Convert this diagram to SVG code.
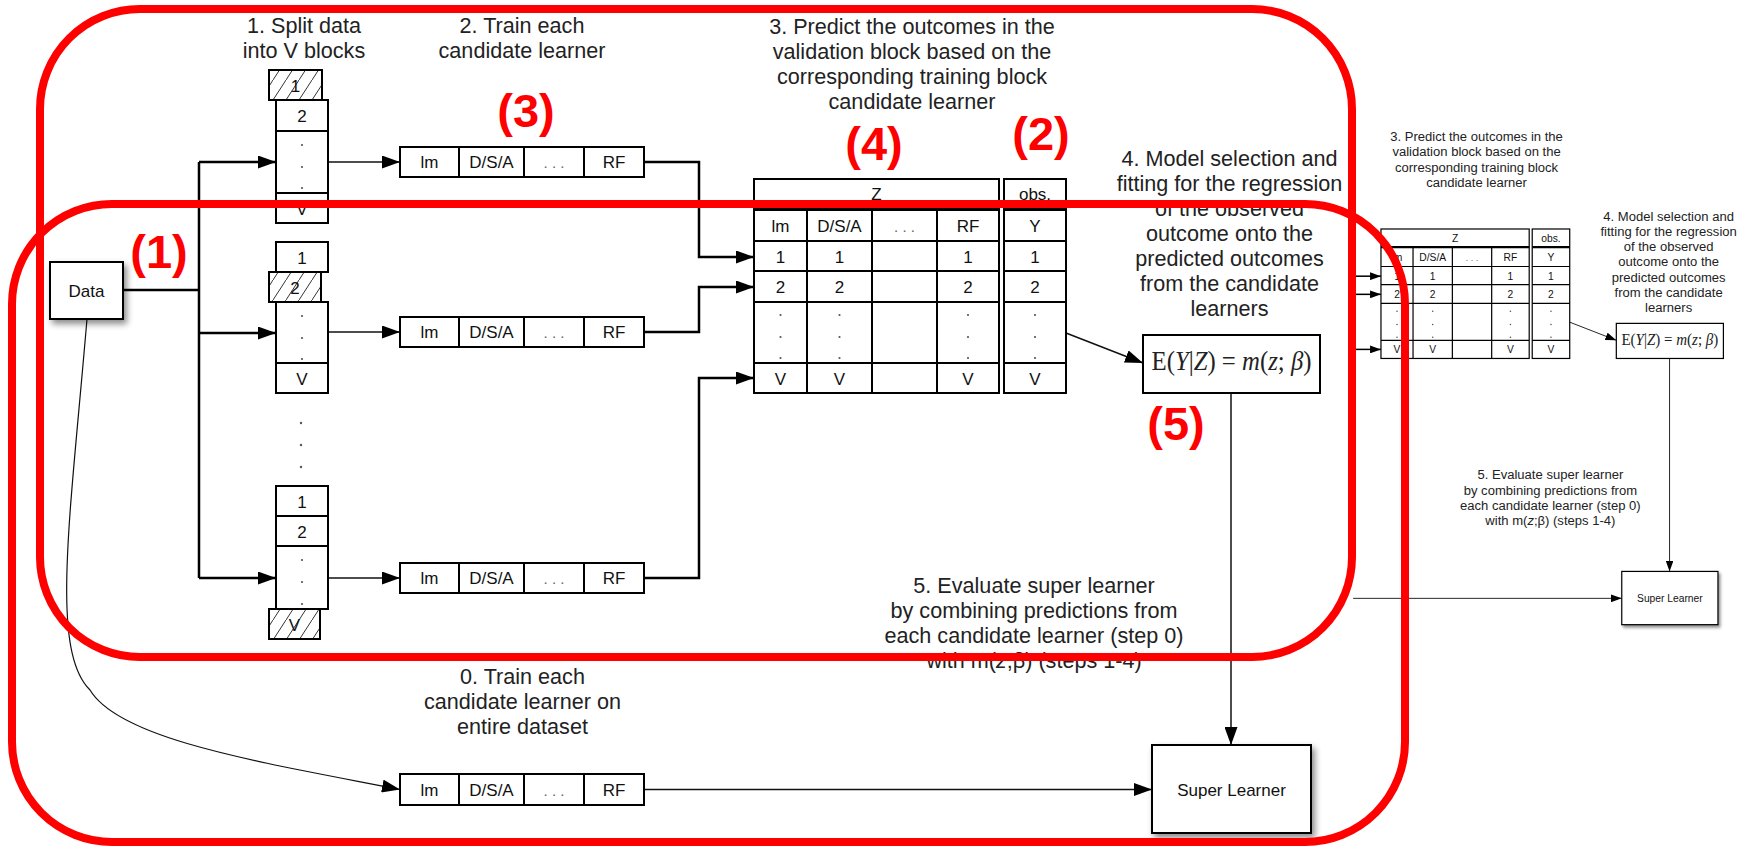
<svg xmlns="http://www.w3.org/2000/svg" width="1746" height="846" viewBox="0 0 1746 846">
<defs>
<style>
.lbl{font-family:"Liberation Sans",Arial,sans-serif;font-size:21.6px;fill:#222;text-anchor:middle}
.cell{font-family:"Liberation Sans",Arial,sans-serif;font-size:17px;fill:#111;text-anchor:middle}
.ell{font-family:"Liberation Sans",Arial,sans-serif;font-size:15px;fill:#666;text-anchor:middle}
.box{fill:#fff;stroke:#000;stroke-width:2}
.hbox{fill:url(#hatch);stroke:#000;stroke-width:2}
.grid{fill:none;stroke:#000;stroke-width:2}
.red{fill:none;stroke:#f00;stroke-width:8}
.num{font-family:"Liberation Sans",Arial,sans-serif;font-size:47px;font-weight:bold;fill:#f00;text-anchor:middle}
.conn{fill:none;stroke:#000;stroke-width:2.5}
.thin{fill:none;stroke:#111;stroke-width:1.5}
.dot{fill:#555}
.frm{font-family:"Liberation Serif","DejaVu Serif",serif;font-size:27px;fill:#222;text-anchor:middle}
</style>
<pattern id="hatch" patternUnits="userSpaceOnUse" width="13" height="20">
<rect width="13" height="20" fill="#fff"/>
<path d="M0 20L13 0" stroke="#333" stroke-width="1"/>
</pattern>
<marker id="arr" markerUnits="userSpaceOnUse" markerWidth="18" markerHeight="13" refX="18" refY="6.5" orient="auto">
<path d="M0 0L18 6.5L0 13z" fill="#000"/>
</marker>
<filter id="shadow" x="-20%" y="-20%" width="150%" height="150%">
<feDropShadow dx="3" dy="4" stdDeviation="3" flood-color="#000" flood-opacity="0.45"/>
</filter>
</defs>
<rect width="1746" height="846" fill="#fff"/>

<!-- step labels -->
<g id="step1-label"><text class="lbl" x="304" y="33">1. Split data</text><text class="lbl" x="304" y="58">into V blocks</text></g>
<g id="step2-label"><text class="lbl" x="522" y="33">2. Train each</text><text class="lbl" x="522" y="58">candidate learner</text></g>
<g id="step3-label">
<text class="lbl" x="912" y="34">3. Predict the outcomes in the</text>
<text class="lbl" x="912" y="59">validation block based on the</text>
<text class="lbl" x="912" y="84">corresponding training block</text>
<text class="lbl" x="912" y="109">candidate learner</text>
</g>
<g id="step4-label">
<text class="lbl" x="1229.5" y="166">4. Model selection and</text>
<text class="lbl" x="1229.5" y="191">fitting for the regression</text>
<text class="lbl" x="1229.5" y="216">of the observed</text>
<text class="lbl" x="1229.5" y="241">outcome onto the</text>
<text class="lbl" x="1229.5" y="266">predicted outcomes</text>
<text class="lbl" x="1229.5" y="291">from the candidate</text>
<text class="lbl" x="1229.5" y="316">learners</text>
</g>
<g id="step5-label">
<text class="lbl" x="1034" y="593">5. Evaluate super learner</text>
<text class="lbl" x="1034" y="618">by combining predictions from</text>
<text class="lbl" x="1034" y="643">each candidate learner (step 0)</text>
<text class="lbl" x="1034" y="668">with m(<tspan font-style="italic">z</tspan>;β) (steps 1-4)</text>
</g>
<g id="step0-label">
<text class="lbl" x="522.5" y="684">0. Train each</text>
<text class="lbl" x="522.5" y="709">candidate learner on</text>
<text class="lbl" x="522.5" y="734">entire dataset</text>
</g>

<!-- connectors -->
<g id="connectors">
<path class="conn" d="M123 290H199M199 162V578"/>
<path class="conn" d="M199 162H276" marker-end="url(#arr)"/>
<path class="conn" d="M199 333H276" marker-end="url(#arr)"/>
<path class="conn" d="M199 578H276" marker-end="url(#arr)"/>
<path class="thin" d="M328 162H400" marker-end="url(#arr)"/>
<path class="thin" d="M328 332H400" marker-end="url(#arr)"/>
<path class="thin" d="M328 578H400" marker-end="url(#arr)"/>
<path class="conn" d="M644 162H699V257H754" marker-end="url(#arr)"/>
<path class="conn" d="M644 332H699V287H754" marker-end="url(#arr)"/>
<path class="conn" d="M644 578H699V378H754" marker-end="url(#arr)"/>
<path class="thin" d="M1066 333L1143 363" marker-end="url(#arr)"/>
<path class="thin" d="M1231 393V745" marker-end="url(#arr)"/>
<path class="thin" d="M644 789.5H1152" marker-end="url(#arr)"/>
<path fill="none" stroke="#111" stroke-width="1.2" d="M87 319C70 520 50 650 90 690C120 740 260 762 400 789.5" marker-end="url(#arr)"/>
</g>

<!-- data -->
<g id="data">
<rect class="box" x="50" y="262" width="73" height="57" filter="url(#shadow)"/>
<text class="cell" x="86.5" y="297">Data</text>
</g>

<!-- fold 1 -->
<g id="fold1">
<rect class="hbox" x="269" y="70" width="53" height="30"/>
<text class="cell" x="295.5" y="91.5">1</text>
<rect class="box" x="276" y="100" width="52" height="31"/>
<text class="cell" x="302" y="122">2</text>
<rect class="box" x="276" y="131" width="52" height="62"/>
<circle class="dot" cx="302" cy="145" r="1.1"/><circle class="dot" cx="302" cy="167" r="1.1"/><circle class="dot" cx="302" cy="188" r="1.1"/>
<rect class="box" x="276" y="193" width="52" height="30"/>
<text class="cell" x="302" y="214.5">V</text>
</g>
<g id="fold2">
<rect class="box" x="276" y="242" width="52" height="30"/>
<text class="cell" x="302" y="263.5">1</text>
<rect class="hbox" x="269" y="272" width="52" height="30"/>
<text class="cell" x="295" y="293.5">2</text>
<rect class="box" x="276" y="302" width="52" height="61"/>
<circle class="dot" cx="302" cy="316" r="1.1"/><circle class="dot" cx="302" cy="338" r="1.1"/><circle class="dot" cx="302" cy="359" r="1.1"/>
<rect class="box" x="276" y="363" width="52" height="30"/>
<text class="cell" x="302" y="384.5">V</text>
</g>
<g id="fold-dots">
<circle class="dot" cx="301" cy="423" r="1.2"/><circle class="dot" cx="301" cy="445" r="1.2"/><circle class="dot" cx="301" cy="467" r="1.2"/>
</g>
<g id="fold3">
<rect class="box" x="276" y="486" width="52" height="30"/>
<text class="cell" x="302" y="507.5">1</text>
<rect class="box" x="276" y="516" width="52" height="30"/>
<text class="cell" x="302" y="537.5">2</text>
<rect class="box" x="276" y="546" width="52" height="63"/>
<circle class="dot" cx="302" cy="560" r="1.1"/><circle class="dot" cx="302" cy="582" r="1.1"/><circle class="dot" cx="302" cy="604" r="1.1"/>
<rect class="hbox" x="269" y="609" width="51" height="30"/>
<text class="cell" x="294.5" y="630.5">V</text>
</g>

<!-- learner rows -->
<g id="learners1">
<rect class="box" x="400" y="147" width="244" height="30"/>
<path class="grid" d="M459 147V177M524 147V177M584 147V177"/>
<text class="cell" x="429.5" y="168">lm</text><text class="cell" x="491.5" y="168">D/S/A</text><text class="ell" x="554" y="168">. . .</text><text class="cell" x="614" y="168">RF</text>
</g>
<g id="learners2">
<rect class="box" x="400" y="317" width="244" height="30"/>
<path class="grid" d="M459 317V347M524 317V347M584 317V347"/>
<text class="cell" x="429.5" y="338">lm</text><text class="cell" x="491.5" y="338">D/S/A</text><text class="ell" x="554" y="338">. . .</text><text class="cell" x="614" y="338">RF</text>
</g>
<g id="learners3">
<rect class="box" x="400" y="563" width="244" height="30"/>
<path class="grid" d="M459 563V593M524 563V593M584 563V593"/>
<text class="cell" x="429.5" y="584">lm</text><text class="cell" x="491.5" y="584">D/S/A</text><text class="ell" x="554" y="584">. . .</text><text class="cell" x="614" y="584">RF</text>
</g>
<g id="learners0">
<rect class="box" x="400" y="774" width="244" height="31"/>
<path class="grid" d="M459 774V805M524 774V805M584 774V805"/>
<text class="cell" x="429.5" y="795.5">lm</text><text class="cell" x="491.5" y="795.5">D/S/A</text><text class="ell" x="554" y="795.5">. . .</text><text class="cell" x="614" y="795.5">RF</text>
</g>

<!-- Z table -->
<g id="ztable">
<rect class="box" x="754" y="179" width="245" height="214"/>
<rect class="box" x="1004" y="179" width="62" height="214"/>
<path fill="none" stroke="#000" stroke-width="4" d="M754 209H999M1004 209H1066"/>
<path class="grid" d="M754 241H999M1004 241H1066M754 271H999M1004 271H1066M754 302H999M1004 302H1066M754 363H999M1004 363H1066M807 209V393M872 209V393M937 209V393"/>
<text class="cell" x="876.5" y="200" font-size="18">Z</text>
<text class="cell" x="1035" y="200" font-size="15">obs.</text>
<text class="cell" x="780.5" y="232">lm</text><text class="cell" x="839.5" y="232">D/S/A</text><text class="ell" x="904.5" y="232">. . .</text><text class="cell" x="968" y="232">RF</text><text class="cell" x="1035" y="232">Y</text>
<text class="cell" x="780.5" y="262.5">1</text><text class="cell" x="839.5" y="262.5">1</text><text class="cell" x="968" y="262.5">1</text><text class="cell" x="1035" y="262.5">1</text>
<text class="cell" x="780.5" y="293">2</text><text class="cell" x="839.5" y="293">2</text><text class="cell" x="968" y="293">2</text><text class="cell" x="1035" y="293">2</text>
<g class="dot">
<circle cx="780.5" cy="315" r="1.1"/><circle cx="780.5" cy="337" r="1.1"/><circle cx="780.5" cy="358" r="1.1"/>
<circle cx="839.5" cy="315" r="1.1"/><circle cx="839.5" cy="337" r="1.1"/><circle cx="839.5" cy="358" r="1.1"/>
<circle cx="968" cy="315" r="1.1"/><circle cx="968" cy="337" r="1.1"/><circle cx="968" cy="358" r="1.1"/>
<circle cx="1035" cy="315" r="1.1"/><circle cx="1035" cy="337" r="1.1"/><circle cx="1035" cy="358" r="1.1"/>
</g>
<text class="cell" x="780.5" y="384.5">V</text><text class="cell" x="839.5" y="384.5">V</text><text class="cell" x="968" y="384.5">V</text><text class="cell" x="1035" y="384.5">V</text>
</g>

<g id="formula">
<rect class="box" x="1143" y="335" width="177" height="58"/>
<text class="frm" x="1231.5" y="370" textLength="160" lengthAdjust="spacingAndGlyphs">E(<tspan font-style="italic">Y</tspan>|<tspan font-style="italic">Z</tspan>) = <tspan font-style="italic">m</tspan>(<tspan font-style="italic">z</tspan>; <tspan font-style="italic">β</tspan>)</text>
</g>

<g id="super-learner">
<rect class="box" x="1152" y="745" width="159" height="88" filter="url(#shadow)"/>
<text class="cell" x="1231.5" y="796" font-size="16.6">Super Learner</text>
</g>

<!-- small copy on the right -->
<g id="small-copy" transform="matrix(0.605 0 0 0.605 924.8 120.7)">
<g id="s-step3-label">
<text class="lbl" x="912" y="34">3. Predict the outcomes in the</text>
<text class="lbl" x="912" y="59">validation block based on the</text>
<text class="lbl" x="912" y="84">corresponding training block</text>
<text class="lbl" x="912" y="109">candidate learner</text>
</g>
<g id="s-step4-label">
<text class="lbl" x="1229.5" y="166">4. Model selection and</text>
<text class="lbl" x="1229.5" y="191">fitting for the regression</text>
<text class="lbl" x="1229.5" y="216">of the observed</text>
<text class="lbl" x="1229.5" y="241">outcome onto the</text>
<text class="lbl" x="1229.5" y="266">predicted outcomes</text>
<text class="lbl" x="1229.5" y="291">from the candidate</text>
<text class="lbl" x="1229.5" y="316">learners</text>
</g>
<g id="s-step5-label">
<text class="lbl" x="1034" y="593">5. Evaluate super learner</text>
<text class="lbl" x="1034" y="618">by combining predictions from</text>
<text class="lbl" x="1034" y="643">each candidate learner (step 0)</text>
<text class="lbl" x="1034" y="668">with m(<tspan font-style="italic">z</tspan>;β) (steps 1-4)</text>
</g>
<g id="s-connectors">
<path class="conn" d="M709 257H754" marker-end="url(#arr)"/>
<path class="conn" d="M709 287H754" marker-end="url(#arr)"/>
<path class="conn" d="M709 378H754" marker-end="url(#arr)"/>
<path class="thin" d="M1066 333L1143 363" marker-end="url(#arr)"/>
<path class="thin" d="M1231 393V745" marker-end="url(#arr)"/>
<path class="thin" d="M708 789.5H1152" marker-end="url(#arr)"/>
</g>
<g id="s-ztable">
<rect class="box" x="754" y="179" width="245" height="214"/>
<rect class="box" x="1004" y="179" width="62" height="214"/>
<path fill="none" stroke="#000" stroke-width="4" d="M754 209H999M1004 209H1066"/>
<path class="grid" d="M754 241H999M1004 241H1066M754 271H999M1004 271H1066M754 302H999M1004 302H1066M754 363H999M1004 363H1066M807 209V393M872 209V393M937 209V393"/>
<text class="cell" x="876.5" y="200" font-size="18">Z</text>
<text class="cell" x="1035" y="200" font-size="15">obs.</text>
<text class="cell" x="780.5" y="232">lm</text><text class="cell" x="839.5" y="232">D/S/A</text><text class="ell" x="904.5" y="232">. . .</text><text class="cell" x="968" y="232">RF</text><text class="cell" x="1035" y="232">Y</text>
<text class="cell" x="780.5" y="262.5">1</text><text class="cell" x="839.5" y="262.5">1</text><text class="cell" x="968" y="262.5">1</text><text class="cell" x="1035" y="262.5">1</text>
<text class="cell" x="780.5" y="293">2</text><text class="cell" x="839.5" y="293">2</text><text class="cell" x="968" y="293">2</text><text class="cell" x="1035" y="293">2</text>
<g class="dot">
<circle cx="780.5" cy="315" r="1.3"/><circle cx="780.5" cy="337" r="1.3"/><circle cx="780.5" cy="358" r="1.3"/>
<circle cx="839.5" cy="315" r="1.3"/><circle cx="839.5" cy="337" r="1.3"/><circle cx="839.5" cy="358" r="1.3"/>
<circle cx="968" cy="315" r="1.3"/><circle cx="968" cy="337" r="1.3"/><circle cx="968" cy="358" r="1.3"/>
<circle cx="1035" cy="315" r="1.3"/><circle cx="1035" cy="337" r="1.3"/><circle cx="1035" cy="358" r="1.3"/>
</g>
<text class="cell" x="780.5" y="384.5">V</text><text class="cell" x="839.5" y="384.5">V</text><text class="cell" x="968" y="384.5">V</text><text class="cell" x="1035" y="384.5">V</text>
</g>
<g id="s-formula">
<rect class="box" x="1143" y="335" width="177" height="58"/>
<text class="frm" x="1231.5" y="370" textLength="160" lengthAdjust="spacingAndGlyphs">E(<tspan font-style="italic">Y</tspan>|<tspan font-style="italic">Z</tspan>) = <tspan font-style="italic">m</tspan>(<tspan font-style="italic">z</tspan>; <tspan font-style="italic">β</tspan>)</text>
</g>
<g id="s-super-learner">
<rect class="box" x="1152" y="745" width="159" height="88" filter="url(#shadow)"/>
<text class="cell" x="1231.5" y="796" font-size="16.6">Super Learner</text>
</g>
</g>

<!-- red numbered labels -->
<g id="red-labels">
<text class="num" x="159" y="268">(1)</text>
<text class="num" x="526" y="127">(3)</text>
<text class="num" x="874" y="160">(4)</text>
<text class="num" x="1041" y="150">(2)</text>
<text class="num" x="1176" y="440">(5)</text>
</g>

<!-- red outlines -->
<g id="red-outlines">
<rect class="red" x="40" y="9" width="1312" height="648" rx="100" ry="100"/>
<rect class="red" x="12" y="204" width="1393" height="638" rx="100" ry="100"/>
</g>
</svg>
